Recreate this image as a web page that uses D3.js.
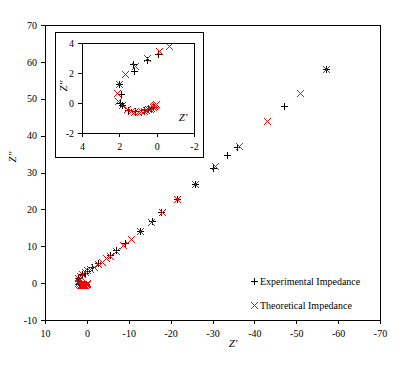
<!DOCTYPE html>
<html><head><meta charset="utf-8">
<script src="https://cdn.jsdelivr.net/npm/d3@7"></script>
<style>
body{margin:0;background:#fff}
svg text{font-family:'Liberation Serif','Times New Roman','DejaVu Serif',serif !important;fill:#000}
</style>
</head><body>
<svg id="c" width="402" height="368"></svg>
<script>
// Experimental impedance (Z', Z'')
const expRe = [-57.0, -47.1, -35.8, -33.5, -30.1, -25.8, -21.6, -17.8, -15.6, -12.7, -9.0, -7.0, -5.5, -2.6, -1.2, -0.09, 0.53, 1.25, 1.21, 2.02, 1.93, 1.96, 1.85, 1.52, 1.16, 0.66, 0.45, 0.3, 0.2];
const expIm = [58.1, 48.0, 36.9, 34.7, 31.2, 26.9, 22.8, 19.2, 16.8, 14.1, 10.8, 9.0, 7.6, 5.5, 4.5, 3.27, 2.87, 2.6, 2.15, 1.27, 0.6, 0.0, -0.15, -0.49, -0.56, -0.49, -0.4, -0.3, -0.25];
// Theoretical impedance (Z', Z'')
const theRe = [-57.0, -50.9, -43.0, -36.3, -30.5, -25.8, -21.6, -18.0, -15.4, -12.7, -10.6, -8.6, -6.9, -5.5, -4.6, -3.5, -2.7, -1.6, -0.68, -0.14, 0.53, 1.16, 1.7, 2.02, 2.11, 2.05, 1.87, 1.6, 1.4, 1.2, 1.0, 0.85, 0.7, 0.55, 0.45, 0.35, 0.28, 0.22, 0.17, 0.13, 0.1, 0.07, 0.05];
const theIm = [58.1, 51.6, 44.1, 37.3, 31.7, 26.9, 22.8, 19.4, 16.5, 14.1, 12.1, 10.3, 8.8, 7.4, 6.7, 5.8, 5.1, 4.4, 3.8, 3.49, 2.98, 2.47, 1.91, 1.27, 0.67, 0.11, -0.11, -0.42, -0.52, -0.58, -0.58, -0.55, -0.52, -0.47, -0.42, -0.38, -0.33, -0.28, -0.24, -0.2, -0.16, -0.12, -0.08];

const mainXTicks = [10, 0, -10, -20, -30, -40, -50, -60, -70];
const mainYTicks = [-10, 0, 10, 20, 30, 40, 50, 60, 70];
const insetXTicks = [4, 2, 0, -2];
const insetYTicks = [-2, 0, 2, 4];
const seriesNames = ["Experimental Impedance", "Theoretical Impedance"];
const xLabel = "Z'";
const yLabel = "Z''";

const FONT = "'Liberation Serif','Times New Roman','DejaVu Serif',serif";
const svg = d3.select("#c");
const expPts = expRe.map((v, i) => [v, expIm[i]]);
const thePts = theRe.map((v, i) => [v, theIm[i]]);

const plusPath = "M-3.5,0H3.5M0,-3.5V3.5";
const xPath = "M-3,-3L4,4M-3,4L4,-3";

function panel(g, x, y, xt, yt, id) {
  const [x0, x1] = x.range(), [y0, y1] = y.range();
  g.append("rect").attr("x", x0).attr("y", y1).attr("width", x1 - x0).attr("height", y0 - y1)
    .attr("fill", "#fff").attr("stroke", "none");
  const ax = g.append("g").attr("transform", `translate(0,${y0})`)
    .call(d3.axisBottom(x).tickValues(xt).tickFormat(d => String(d)).tickSize(4).tickSizeOuter(0).tickPadding(6));
  const ay = g.append("g").attr("transform", `translate(${x0},0)`)
    .call(d3.axisLeft(y).tickValues(yt).tickFormat(d => String(d)).tickSize(4).tickSizeOuter(0).tickPadding(4));
  [ax, ay].forEach(a => {
    a.attr("font-family", FONT).attr("font-size", 10);
    a.select(".domain").remove();
    a.selectAll("line").attr("stroke", "#000").attr("shape-rendering", "crispEdges");
    a.selectAll("text").style("font-family", FONT).style("font-size", "10px").attr("fill", "#000");
  });
  g.append("clipPath").attr("id", id).append("rect")
    .attr("x", x0).attr("y", y1).attr("width", x1 - x0).attr("height", y0 - y1);
  const d = g.append("g").attr("clip-path", `url(#${id})`);
  d.selectAll(".e").data(expPts).join("path").attr("class", "e")
    .attr("transform", p => `translate(${Math.round(x(p[0])) + 0.5},${Math.round(y(p[1])) + 0.5})`)
    .attr("d", plusPath).attr("stroke", "#000").attr("stroke-width", 1).attr("fill", "none")
    .attr("shape-rendering", "crispEdges");
  d.selectAll(".t").data(thePts).join("path").attr("class", "t")
    .attr("transform", p => `translate(${Math.round(x(p[0]))},${Math.round(y(p[1]))})`)
    .attr("d", xPath).attr("stroke", "#ff0000").attr("stroke-width", 1).attr("fill", "none")
    .attr("shape-rendering", "crispEdges");
  g.append("rect").attr("x", x0 + 0.5).attr("y", y1 + 0.5).attr("width", x1 - x0).attr("height", y0 - y1)
    .attr("fill", "none").attr("stroke", "#000").attr("stroke-width", 1).attr("shape-rendering", "crispEdges");
}

function label(g, x, y, rot, txt) {
  g.append("text").attr("transform", `translate(${x},${y})` + (rot ? " rotate(-90)" : ""))
    .attr("text-anchor", "middle").style("font-family", FONT).style("font-style", "italic")
    .style("font-size", "11px").text(txt);
}

// Main chart
const mx = d3.scaleLinear().domain([10, -70]).range([45, 380]);
const my = d3.scaleLinear().domain([-10, 70]).range([320, 25]);
const gm = svg.append("g");
panel(gm, mx, my, mainXTicks, mainYTicks, "clipMain");
label(gm, 233, 347, false, xLabel);
label(gm, 16, 157, true, yLabel);

// Legend
const lg = svg.append("g");
seriesNames.forEach((n, i) => {
  const ly = 281 + i * 24;
  if (i === 0) {
    lg.append("path").attr("transform", `translate(254.5,${ly + 0.5})`)
      .attr("d", plusPath).attr("stroke", "#000").attr("fill", "none").attr("shape-rendering", "crispEdges");
  } else {
    lg.append("path").attr("transform", `translate(254,${ly})`)
      .attr("d", xPath).attr("stroke", "#ff0000").attr("fill", "none").attr("shape-rendering", "crispEdges");
  }
  lg.append("text").attr("x", 260).attr("y", ly + 3.5).style("font-family", FONT).style("font-size", "10px").text(n);
});

// Inset
const gi = svg.append("g");
gi.append("rect").attr("x", 55.5).attr("y", 32.5).attr("width", 148).attr("height", 125)
  .attr("fill", "#fff").attr("stroke", "#000").attr("stroke-width", 1).attr("shape-rendering", "crispEdges");
const ix = d3.scaleLinear().domain([4, -2]).range([82, 194]);
const iy = d3.scaleLinear().domain([-2, 4]).range([133, 43]);
panel(gi, ix, iy, insetXTicks, insetYTicks, "clipInset");
label(gi, 183, 121, false, xLabel);
label(gi, 67, 86, true, yLabel);
</script>
</body></html>
